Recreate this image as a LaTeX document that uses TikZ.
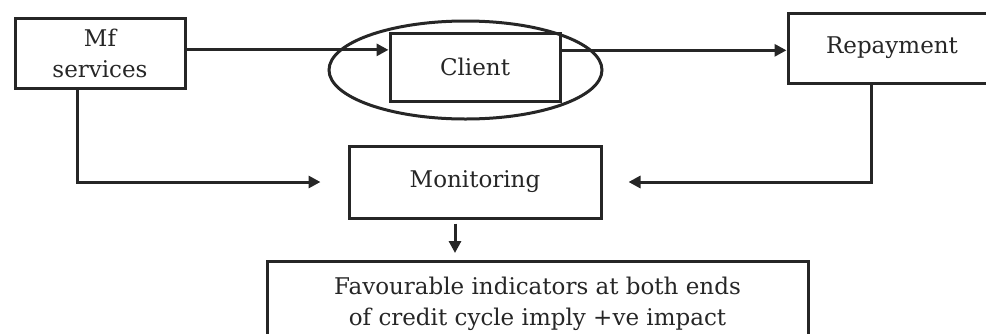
\documentclass[tikz,border=0pt]{standalone}
\usepackage{fontspec}
\setmainfont{DejaVu Serif}
\usetikzlibrary{arrows.meta,calc,shapes.geometric}
\begin{document}
\begin{tikzpicture}[x=1pt,y=-1pt,
  box/.style={draw=black!85,line width=3pt,rectangle,inner sep=0pt,align=center,
    font=\fontsize{23}{31}\selectfont,text=black!85},
  conn/.style={draw=black!85,line width=3pt},
  arr/.style={conn,-{Triangle[length=12pt,width=12pt]}}]
\useasboundingbox (0,0) rectangle (986,333);
\begin{scope}
\clip (0,0) rectangle (986,333);
% boxes
\node[box,minimum width=170pt,minimum height=70pt] (mf) at (100,53) {Mf\\services};
\node[box,minimum width=170pt,minimum height=68pt] (client) at (475,67) {Client};
\node[draw=black!85,line width=3pt,ellipse,minimum width=273pt,minimum height=98pt,inner sep=0pt] (ring) at (465.5,70) {};
\node[box,minimum width=208pt,minimum height=70pt] (repay) at (892,48) {Repayment};
\node[box,minimum width=252pt,minimum height=72pt] (monitor) at (475,182) {Monitoring};
\node[box,minimum width=541pt,minimum height=84pt,anchor=north] (result) at (537.5,260)
  {\raisebox{13pt}{\parbox{541pt}{\centering Favourable indicators at both ends\\of credit cycle imply +ve impact}}};
% connectors
\coordinate (mfout) at ($(mf.north east)!0.457!(mf.south east)$);
\draw[arr] (mfout) -- (client.west |- mfout);
\coordinate (clout) at ($(client.north east)!0.265!(client.south east)$);
\draw[arr] (clout) -- (repay.west |- clout);
\coordinate (mfdown) at ($(mf.south west)!0.37!(mf.south east)$);
\coordinate (monin) at ($(monitor.west)+(-27,0)$);
\draw[arr] (mfdown) |- (monin);
\coordinate (repdown) at ($(repay.south west)!0.404!(repay.south east)$);
\coordinate (monin2) at ($(monitor.east)+(26,0)$);
\draw[arr] (repdown) |- (monin2);
\coordinate (mondown) at ($(monitor.south)+(-20,4)$);
\draw[arr] (mondown) -- ($(mondown |- result.north)+(0,-7)$);
\end{scope}
\end{tikzpicture}
\end{document}
